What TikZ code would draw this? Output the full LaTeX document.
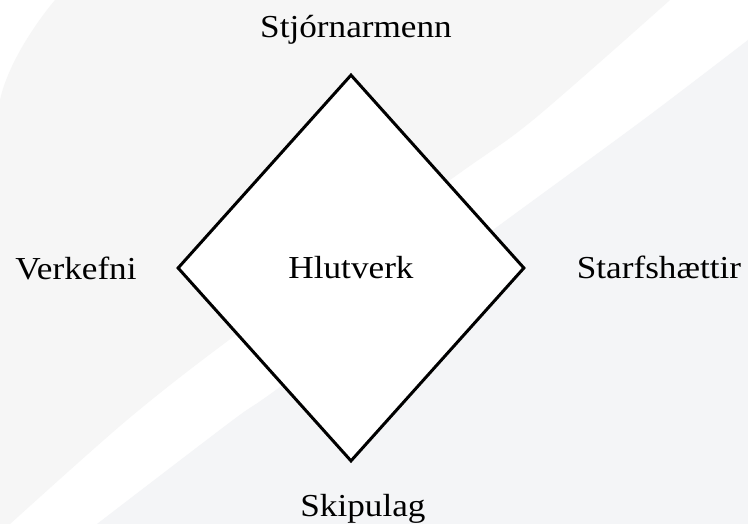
\documentclass[tikz,border=0pt]{standalone}
\usepackage{fontspec}
\setmainfont{Liberation Serif}[FakeStretch=1.1]
\usetikzlibrary{shapes.geometric}
\definecolor{bgleft}{HTML}{F6F6F6}
\definecolor{bgright}{HTML}{F4F5F7}
\begin{document}
\begin{tikzpicture}[x=1pt,y=1pt,
  lbl/.style={anchor=base,inner sep=0pt,font=\fontsize{32}{38}\selectfont},
  hub/.style={draw=black,line width=3pt,fill=white,shape=diamond,inner sep=0pt,
    minimum width=347pt,minimum height=387pt,font=\fontsize{32}{38}\selectfont,line join=miter}]
\useasboundingbox (0,0) rectangle (748,524);
% background
\fill[white] (0,0) rectangle (748,524);
\fill[bgleft] (55,524) .. controls (35,500) and (8,460) .. (0,424) -- (0,0)
  -- plot[smooth] coordinates {(10,0) (127,104) (233,187) (450,344) (533,404) (670,524)} -- cycle;
\fill[bgright] (748,0) -- plot[smooth] coordinates {(97,0) (233,104) (280,137) (497,297) (643,404) (748,484)}
  -- cycle;
% diagram
\node[hub] (c) at (351,256) {Hlutverk};
\node[lbl] (t) at (356,486) {Stjórnarmenn};
\node[lbl] (l) at (76,244) {Verkefni};
\node[lbl] (r) at (659,245) {Starfshættir};
\node[lbl] (b) at (363,7) {Skipulag};
\end{tikzpicture}
\end{document}
